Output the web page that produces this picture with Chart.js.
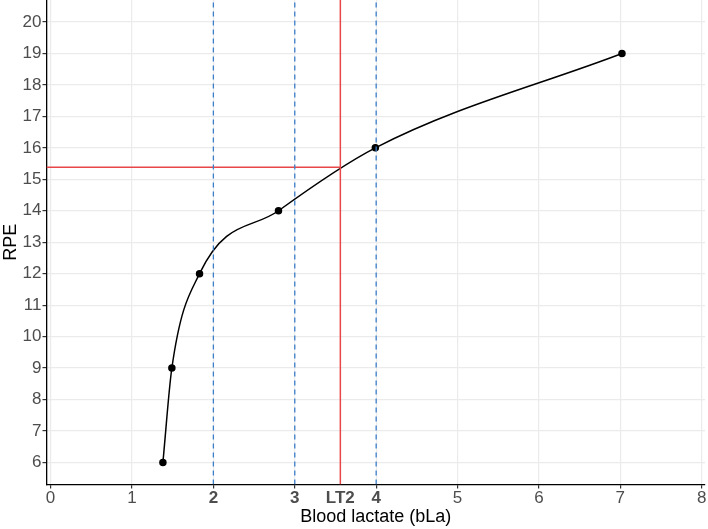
<!DOCTYPE html>
<html>
<head>
<meta charset="utf-8">
<script src="https://cdn.jsdelivr.net/npm/chart.js@4/dist/chart.umd.min.js"></script>
<style>
  html, body { margin: 0; padding: 0; background: #fff; }
  #wrap { width: 708px; height: 529px; }
</style>
</head>
<body>
<div id="wrap"><canvas id="rpeChart"></canvas></div>
<script>
// measured points (blood lactate vs RPE)
const lactate = [1.38, 1.49, 1.83, 2.80, 3.99, 7.02];
const rpe = [6, 9, 12, 14, 16, 19];

// thresholds
const lt2X = 3.56;
const lt2Y = 15.38;
const fixedLines = [2, 3, 4];

const xTicks = [0, 1, 2, 3, 4, 5, 6, 7, 8];
const boldTicks = [2, 3, 4];
const yTicks = [6, 7, 8, 9, 10, 11, 12, 13, 14, 15, 16, 17, 18, 19, 20];

const xMin = -0.05, xMax = 8.04;
const yMin = 5.3, yMax = 20.7;

const FONT = 'Liberation Sans, Arial, sans-serif';

const curveData = lactate.map((x, i) => ({ x: x, y: rpe[i] }));

const datasets = [];
fixedLines.forEach(v => {
    datasets.push({
        data: [{ x: v, y: yMin }, { x: v, y: yMax }],
        borderColor: '#3b7fc8',
        borderWidth: 1.3,
        borderDash: [5, 4],
        pointRadius: 0,
        showLine: true
    });
});
// LT2 lines
datasets.push({
    data: [{ x: lt2X, y: yMin }, { x: lt2X, y: yMax }],
    borderColor: '#e8474a',
    borderWidth: 1.5,
    pointRadius: 0,
    showLine: true
});
datasets.push({
    data: [{ x: xMin, y: lt2Y }, { x: lt2X, y: lt2Y }],
    borderColor: '#e8474a',
    borderWidth: 1.5,
    pointRadius: 0,
    showLine: true
});
datasets.push({
    data: curveData,
    borderColor: '#000',
    backgroundColor: '#000',
    borderWidth: 1.5,
    pointRadius: 3,
    pointHoverRadius: 3,
    showLine: true,
    cubicInterpolationMode: 'monotone'
});

const ctx = document.getElementById('rpeChart').getContext('2d');
new Chart(ctx, {
    type: 'scatter',
    data: { datasets: datasets },
    options: {
        responsive: true,
        maintainAspectRatio: false,
        animation: false,
        layout: { autoPadding: false, padding: { top: 0, right: 3, left: 0, bottom: 3 } },
        plugins: {
            legend: { display: false },
            tooltip: { enabled: false }
        },
        scales: {
            x: {
                type: 'linear',
                min: xMin,
                max: xMax,
                afterBuildTicks: function (scale) {
                    const list = xTicks.concat([lt2X]).sort((a, b) => a - b);
                    scale.ticks = list.map(v => ({ value: v }));
                },
                afterFit: function (scale) {
                    scale.paddingLeft = 0;
                    scale.paddingRight = 0;
                },
                ticks: {
                    autoSkip: false,
                    maxRotation: 0,
                    color: '#4d4d4d',
                    padding: 3,
                    font: function (c) {
                        const v = c.tick ? c.tick.value : 0;
                        const bold = v === lt2X || boldTicks.includes(v);
                        return { family: FONT, size: 17, lineHeight: 0.8, weight: bold ? 'bold' : 'normal' };
                    },
                    callback: function (value) {
                        return value === lt2X ? 'LT2' : value;
                    }
                },
                grid: {
                    color: function (c) {
                        return c.tick && c.tick.value === lt2X ? 'rgba(0,0,0,0)' : '#ebebeb';
                    },
                    lineWidth: 1.2,
                    drawTicks: true,
                    tickLength: 4,
                    tickColor: function (c) {
                        return c.tick && c.tick.value === lt2X ? 'rgba(0,0,0,0)' : '#333';
                    }
                },
                border: { display: true, color: '#000', width: 1.3 },
                title: {
                    display: true,
                    text: 'Blood lactate (bLa)',
                    color: '#000',
                    padding: { top: 0, bottom: 0 },
                    font: { family: FONT, size: 18, lineHeight: 1.0 }
                }
            },
            y: {
                type: 'linear',
                min: yMin,
                max: yMax,
                afterBuildTicks: function (scale) {
                    scale.ticks = yTicks.map(v => ({ value: v }));
                },
                afterFit: function (scale) {
                    scale.paddingTop = 0;
                    scale.paddingBottom = 0;
                },
                ticks: {
                    color: '#4d4d4d',
                    padding: 1,
                    font: { family: FONT, size: 17 }
                },
                grid: {
                    color: '#ebebeb',
                    lineWidth: 1.2,
                    tickLength: 4,
                    tickColor: '#333'
                },
                border: { display: true, color: '#000', width: 1.3 },
                title: {
                    display: true,
                    text: 'RPE',
                    color: '#000',
                    padding: { top: 0, bottom: 0 },
                    font: { family: FONT, size: 18 }
                }
            }
        }
    }
});
</script>
</body>
</html>
